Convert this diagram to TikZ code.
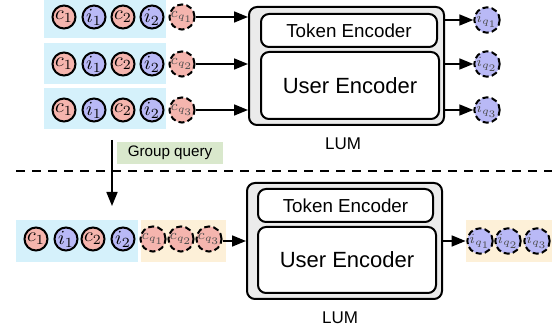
\documentclass[tikz,border=0pt]{standalone}
\usepackage{fontspec}
\setmainfont{Liberation Sans}
\usetikzlibrary{arrows.meta}
\definecolor{cpink}{HTML}{F5B5AE}
\definecolor{ilav}{HTML}{B9B9F6}
\definecolor{bgblue}{HTML}{D5F1FB}
\definecolor{bgorange}{HTML}{FDF0D8}
\definecolor{bggreen}{HTML}{D9E8CC}
\definecolor{boxgray}{HTML}{EBEBEB}
\begin{document}
\begin{tikzpicture}[x=0.5pt,y=-0.5pt,
  tok/.style={circle, draw, line width=1pt, minimum size=11.5pt, inner sep=0pt, font=\fontsize{10}{10}\selectfont},
  ctok/.style={tok, fill=cpink},
  itok/.style={tok, fill=ilav},
  qdash/.style={dash pattern=on 3pt off 1.6pt, text=black!70, font=\fontsize{7}{7}\selectfont},
  bgb/.style={fill=bgblue, draw=none, inner sep=0pt},
  bgo/.style={fill=bgorange, draw=none, inner sep=0pt},
  arr/.style={-{Triangle[length=7pt,width=5.5pt]}, line width=0.85pt},
  outer/.style={draw, fill=boxgray, rounded corners=4pt, line width=1pt, inner sep=0pt},
  inner/.style={draw, fill=white, rounded corners=4pt, line width=1pt, inner sep=0pt},
  lbl/.style={font=\fontsize{8.5}{10}\selectfont}
]
\useasboundingbox (0,0) rectangle (556,335);

% ---------- top part ----------
\node[bgb, minimum width=61pt, minimum height=19pt] (b1) at (105,19) {};
\node[bgb, minimum width=61pt, minimum height=20.5pt] (b2) at (105,63.5) {};
\node[bgb, minimum width=61pt, minimum height=20.5pt] (b3) at (105,108.5) {};

\foreach \r/\y in {1/17,2/64,3/110}{
  \node[ctok] (c1r\r) at (64,\y) {$c_1$};
  \node[itok] (i1r\r) at (94,\y) {$i_1$};
  \node[ctok] (c2r\r) at (123,\y) {$c_2$};
  \node[itok] (i2r\r) at (152,\y) {$i_2$};
}
\node[ctok, qdash] (cq1) at (182,17) {$c_{q_1}$};
\node[ctok, qdash] (cq2) at (182,64) {$c_{q_2}$};
\node[ctok, qdash] (cq3) at (182,110) {$c_{q_3}$};

\node[outer, minimum width=97.5pt, minimum height=59pt] (lum1) at (346.5,66) {};
\node[inner, minimum width=88pt, minimum height=16.5pt, font=\fontsize{9.4}{10}\selectfont] (tok1) at (349,30.5) {Token Encoder};
\node[inner, minimum width=89pt, minimum height=33.5pt, font=\fontsize{11}{12}\selectfont] (usr1) at (350,85.5) {User Encoder};
\node[lbl] (lumlab1) at (343,144) {LUM};

\draw[arr] (cq1) -- (cq1 -| lum1.west);
\draw[arr] (cq2) -- (cq2 -| lum1.west);
\draw[arr] (cq3) -- (cq3 -| lum1.west);

\node[itok, qdash] (iq1) at (487,20) {$i_{q_1}$};
\node[itok, qdash] (iq2) at (487,64) {$i_{q_2}$};
\node[itok, qdash] (iq3) at (487,110) {$i_{q_3}$};
\draw[arr] (iq1 -| lum1.east) -- (iq1);
\draw[arr] (iq2 -| lum1.east) -- (iq2);
\draw[arr] (iq3 -| lum1.east) -- (iq3);

% ---------- separator ----------
\coordinate (dl) at (16,171);
\coordinate (dr) at (552,171);
\draw[line width=0.8pt, dash pattern=on 4.5pt off 3.5pt] (dl) -- (dr);

\coordinate (gqs) at (112,140);
\coordinate (gqe) at (112,206);
\draw[arr] (gqs) -- (gqe);
\node[fill=bggreen, minimum width=53pt, minimum height=11pt, inner sep=0pt, font=\fontsize{7.6}{9}\selectfont] (gq) at (170,153) {Group query};

% ---------- bottom part ----------
\node[bgb, minimum width=61pt, minimum height=21pt] (bb) at (77,241) {};
\node[bgo, minimum width=42.5pt, minimum height=21pt] (bo) at (183.5,241) {};
\node[ctok] (bc1) at (36,239) {$c_1$};
\node[itok] (bi1) at (66,239) {$i_1$};
\node[ctok] (bc2) at (93,239) {$c_2$};
\node[itok] (bi2) at (123,239) {$i_2$};
\node[ctok, qdash] (bcq1) at (153,239) {$c_{q_1}$};
\node[ctok, qdash] (bcq2) at (181,239) {$c_{q_2}$};
\node[ctok, qdash] (bcq3) at (209,239) {$c_{q_3}$};

\node[outer, minimum width=97.5pt, minimum height=58pt] (lum2) at (344.5,241) {};
\node[inner, minimum width=87.5pt, minimum height=16.5pt, font=\fontsize{9.4}{10}\selectfont] (tok2) at (345.5,205.5) {Token Encoder};
\node[inner, minimum width=89pt, minimum height=33pt, font=\fontsize{11}{12}\selectfont] (usr2) at (347,260) {User Encoder};
\node[lbl] (lumlab2) at (340,318) {LUM};

\draw[arr] (bcq3.east |- bo.east) -- (bo.east -| lum2.west);

\node[bgo, minimum width=43pt, minimum height=21pt] (oo) at (509,241) {};
\node[itok, qdash] (biq1) at (480,241) {$i_{q_1}$};
\node[itok, qdash] (biq2) at (508,241) {$i_{q_2}$};
\node[itok, qdash] (biq3) at (537,241) {$i_{q_3}$};
\draw[arr] (lum2.east) -- (oo.west);
\end{tikzpicture}
\end{document}
